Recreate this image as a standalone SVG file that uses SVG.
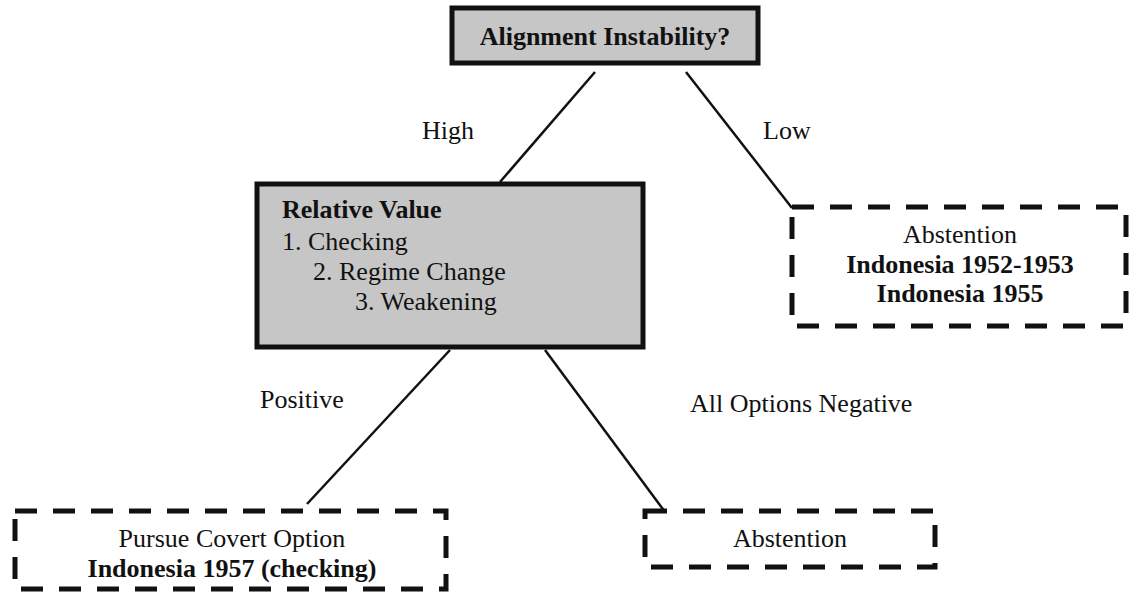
<svg xmlns="http://www.w3.org/2000/svg" width="1130" height="594" viewBox="0 0 1130 594">
<style>
text{font-family:"Liberation Serif","Times New Roman",serif;font-size:26px;fill:#111}
.b{font-weight:bold}
.solid{fill:#c6c6c6;stroke:#111;stroke-width:5}
.dash{fill:#fff;stroke:#111;stroke-width:5;stroke-dasharray:22 16}
.conn line{stroke:#111;stroke-width:2.5}
</style>
<rect width="1130" height="594" fill="#fff"/>
<g id="connectors" class="conn">
<line x1="595" y1="72" x2="500" y2="182"/>
<line x1="686" y1="72" x2="792" y2="208"/>
<line x1="450" y1="350" x2="307" y2="504"/>
<line x1="545" y1="350" x2="668" y2="516"/>
</g>
<g id="labels">
<text x="422" y="139">High</text>
<text x="763" y="139">Low</text>
<text x="260" y="408">Positive</text>
<text x="690" y="412">All Options Negative</text>
</g>
<g id="node-alignment">
<rect class="solid" x="452" y="8" width="306" height="55"/>
<text class="b" x="605" y="45" text-anchor="middle">Alignment Instability?</text>
</g>
<g id="node-relative">
<rect class="solid" x="257" y="184" width="386" height="163"/>
<text class="b" x="282" y="218">Relative Value</text>
<text x="282" y="250">1. Checking</text>
<text x="313" y="280">2. Regime Change</text>
<text x="355" y="310">3. Weakening</text>
</g>
<g id="node-abstention-low">
<rect class="dash" x="792" y="207" width="334" height="119"/>
<text x="960" y="243" text-anchor="middle">Abstention</text>
<text class="b" x="960" y="273" text-anchor="middle">Indonesia 1952-1953</text>
<text class="b" x="960" y="302" text-anchor="middle">Indonesia 1955</text>
</g>
<g id="node-covert">
<rect class="dash" x="15" y="511" width="431" height="78"/>
<text x="232" y="547" text-anchor="middle">Pursue Covert Option</text>
<text class="b" x="232" y="577" text-anchor="middle">Indonesia 1957 (checking)</text>
</g>
<g id="node-abstention-neg">
<rect class="dash" x="645" y="511" width="290" height="56"/>
<text x="790" y="547" text-anchor="middle">Abstention</text>
</g>
</svg>
